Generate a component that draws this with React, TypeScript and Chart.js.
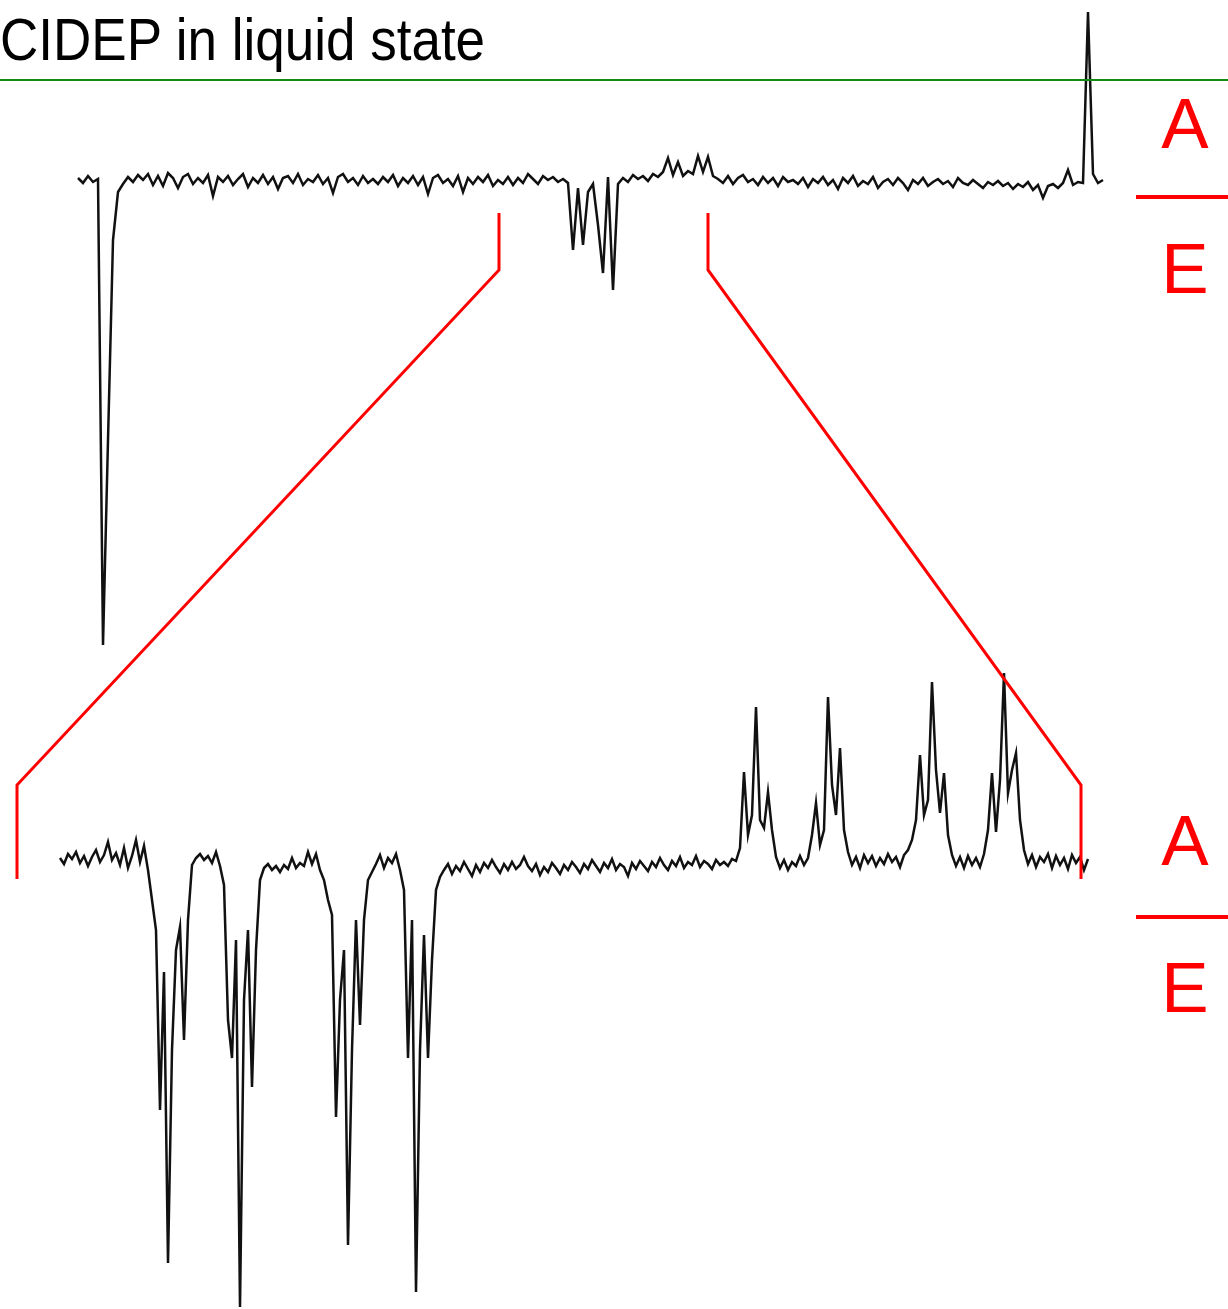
import React, { useEffect, useRef } from 'react';
import { Chart, registerables } from 'chart.js';

Chart.register(...registerables);

// ---- Data (arbitrary units) ----
// Full CIDEP spectrum: uniformly sampled field, step TOP_STEP, signal (up = absorption A, down = emission E)
const TOP_STEP = 5;
const topSignal = [
  2, -3, 4, -2, 1, -465, -260, -60, -12, -4,
  3, -2, 5, 0, 6, -5, 4, -6, 7, 2,
  -8, 3, 6, -4, 2, -3, 5, -16, 3, -2,
  4, -5, 1, 6, -7, 2, -3, 5, -4, 3,
  -9, 2, 4, -3, 6, -5, 1, -2, 5, -4,
  2, -13, 3, 6, -2, 2, -5, 4, -3, 1,
  -4, 3, -2, 5, -6, 2, -3, 4, -5, 3,
  -14, 2, 5, -3, 1, -6, 4, -12, 2, -4,
  3, -2, 5, -6, 0, -4, 3, -5, 2, -3,
  6, 1, -4, 4, 0, 3, -2, 1, -3, -70,
  -8, -65, -12, -4, -45, -93, 3, -110, -4, 2,
  -2, 5, 1, 4, -1, 6, 3, 8, 22, 5,
  18, 4, 9, 6, 24, 8, 23, 4, 1, -3,
  4, -4, 2, 5, -2, 1, -5, 3, -3, 2,
  -6, 3, -2, 0, -4, 2, -7, 1, -3, 3,
  -5, 0, -9, 2, -3, 4, -6, -1, -4, 3,
  -8, -2, 1, -5, 2, -3, -10, 0, -4, 2,
  -6, -2, 1, -4, -1, -7, 2, -3, -5, 0,
  -4, -8, -2, -5, -1, -6, -3, -9, -4, -7,
  -2, -10, -5, -18, -6, -4, -8, -3, 10, -5,
  -2, -3, 168, 6, -3, 0,
];

// Expanded central region: uniformly sampled field, step BOTTOM_STEP
const BOTTOM_STEP = 4;
const bottomSignal = [
  2, -4, 6, 1, 8, -3, 4, -6, 3, 10,
  -2, 5, 18, 0, 7, -5, 12, -8, 4, 20,
  -2, 14, -10, -40, -70, -250, -112, -403, -190, -90,
  -67, -180, -60, -5, 2, 6, 0, 4, -3, 8,
  -6, -25, -160, -198, -80, -447, -140, -70, -227, -90,
  -20, -8, -4, -10, -6, -12, -5, -9, 2, -8,
  -3, -6, 8, -4, 6, -10, -20, -40, -55, -257,
  -140, -90, -385, -190, -60, -165, -60, -20, -12, -4,
  5, -8, 2, -3, 6, -10, -30, -198, -60, -432,
  -190, -75, -198, -100, -30, -17, -10, -4, -14, -6,
  -11, -2, -9, -16, -5, -12, -3, -8, 0, -7,
  -13, -4, -10, -2, -9, -5, 3, -6, -11, -4,
  -15, -7, -12, -3, -8, -14, -5, -10, -2, -7,
  -13, -4, -9, 0, -6, -12, -3, -8, 1, -10,
  -4, -7, -16, -3, -9, -1, -6, -11, -2, -7,
  2, -5, -10, -1, -6, 3, -8, -2, -5, 4,
  -7, -1, -4, -9, 0, -5, -2, -6, 1, -1,
  12, 88, 25, 45, 153, 40, 32, 68, 30, 3,
  -8, 0, -10, -2, -6, 4, -5, 2, 25, 57,
  15, 30, 163, 75, 45, 112, 30, 8, -5, 3,
  -8, 5, -3, 4, -6, 2, -4, 6, -2, 3,
  -7, 5, 10, 20, 40, 105, 45, 60, 178, 90,
  47, 87, 25, 5, -6, 3, -8, 4, -5, 2,
  -7, 6, 30, 87, 28, 80, 187, 67, 90, 107,
  40, 10, -4, 5, -7, 3, -2, 6, -8, 4,
  -5, 2, -9, 5, -3, 3, -10, 1,
];

// Field range of the full spectrum that is expanded below, and where it lands on the expanded axis
const zoomFieldTop = [421, 630];
const zoomFieldBottom = [-43, 1021];
const bracketTopLevels = [-33, -90];
const bracketBottomLevels = [75, -19];

const TITLE = 'CIDEP in liquid state';
const PHASE_LABELS = ['A', 'E'];

// ---- Layout (pixels) ----
const W = 1228;
const H = 1309;
const TOP_ORIGIN = { x: 78, y: 180 };
const BOTTOM_ORIGIN = { x: 60, y: 860 };

const zoomBracket = {
  id: 'zoomBracket',
  afterDatasetsDraw(chart: any) {
    const { ctx, scales } = chart;
    ctx.save();
    ctx.strokeStyle = '#ff0000';
    ctx.lineWidth = 3;
    ctx.lineJoin = 'miter';
    for (let k = 0; k < 2; k++) {
      const x1 = scales.xTop.getPixelForValue(zoomFieldTop[k]);
      const y1a = scales.yTop.getPixelForValue(bracketTopLevels[0]);
      const y1b = scales.yTop.getPixelForValue(bracketTopLevels[1]);
      const x2 = scales.xBot.getPixelForValue(zoomFieldBottom[k]);
      const y2a = scales.yBot.getPixelForValue(bracketBottomLevels[0]);
      const y2b = scales.yBot.getPixelForValue(bracketBottomLevels[1]);
      ctx.beginPath();
      ctx.moveTo(x1, y1a);
      ctx.lineTo(x1, y1b);
      ctx.lineTo(x2, y2a);
      ctx.lineTo(x2, y2b);
      ctx.stroke();
    }
    ctx.restore();
  },
};

export default function App() {
  const canvasRef = useRef<HTMLCanvasElement | null>(null);

  useEffect(() => {
    const canvas = canvasRef.current;
    if (!canvas) return;
    const topData = topSignal.map((v, i) => ({ x: i * TOP_STEP, y: v }));
    const bottomData = bottomSignal.map((v, i) => ({ x: i * BOTTOM_STEP, y: v }));

    const chart = new Chart(canvas, {
      type: 'line',
      data: {
        datasets: [
          {
            label: 'full spectrum',
            data: topData,
            xAxisID: 'xTop',
            yAxisID: 'yTop',
            borderColor: '#111111',
            borderWidth: 2.5,
            pointRadius: 0,
            tension: 0,
            fill: false,
          },
          {
            label: 'expanded',
            data: bottomData,
            xAxisID: 'xBot',
            yAxisID: 'yBot',
            borderColor: '#111111',
            borderWidth: 2.5,
            pointRadius: 0,
            tension: 0,
            fill: false,
          },
        ],
      },
      options: {
        animation: false,
        responsive: false,
        devicePixelRatio: 1,
        parsing: false as any,
        layout: { padding: 0 },
        plugins: {
          legend: { display: false },
          title: { display: false },
          tooltip: { enabled: false },
        },
        scales: {
          xTop: { type: 'linear', axis: 'x', display: false, min: -TOP_ORIGIN.x, max: W - TOP_ORIGIN.x },
          yTop: { type: 'linear', axis: 'y', display: false, min: TOP_ORIGIN.y - H, max: TOP_ORIGIN.y },
          xBot: { type: 'linear', axis: 'x', display: false, min: -BOTTOM_ORIGIN.x, max: W - BOTTOM_ORIGIN.x },
          yBot: { type: 'linear', axis: 'y', display: false, min: BOTTOM_ORIGIN.y - H, max: BOTTOM_ORIGIN.y },
        } as any,
      },
      plugins: [zoomBracket],
    } as any);
    return () => chart.destroy();
  }, []);

  const labelStyle = (top: number): React.CSSProperties => ({
    position: 'absolute',
    left: 1135,
    width: 100,
    top,
    textAlign: 'center',
    fontFamily: '"Liberation Sans", Arial, sans-serif',
    fontSize: 71,
    lineHeight: '71px',
    color: '#ff0000',
  });
  const dividerStyle = (top: number): React.CSSProperties => ({
    position: 'absolute',
    left: 1136,
    width: W - 1136,
    top,
    height: 4,
    background: '#ff0000',
  });

  return (
    <div style={{ position: 'absolute', left: 0, top: 0, width: W, height: H, background: '#ffffff', overflow: 'hidden' }}>
      <canvas ref={canvasRef} width={W} height={H} style={{ position: 'absolute', left: 0, top: 0, width: W, height: H }} />
      <div
        style={{
          position: 'absolute',
          left: 0,
          top: 10,
          fontFamily: '"Liberation Sans", Arial, sans-serif',
          fontSize: 53,
          lineHeight: '53px',
          color: '#000000',
          whiteSpace: 'nowrap',
          transform: 'scale(1, 1.12)',
          transformOrigin: 'top left',
        }}
      >
        {TITLE}
      </div>
      <div style={{ position: 'absolute', left: 0, top: 79, width: W, height: 2, background: '#138a13' }} />
      <div style={labelStyle(88)}>{PHASE_LABELS[0]}</div>
      <div style={dividerStyle(195)} />
      <div style={labelStyle(233)}>{PHASE_LABELS[1]}</div>
      <div style={labelStyle(805)}>{PHASE_LABELS[0]}</div>
      <div style={dividerStyle(915)} />
      <div style={labelStyle(952)}>{PHASE_LABELS[1]}</div>
    </div>
  );
}
